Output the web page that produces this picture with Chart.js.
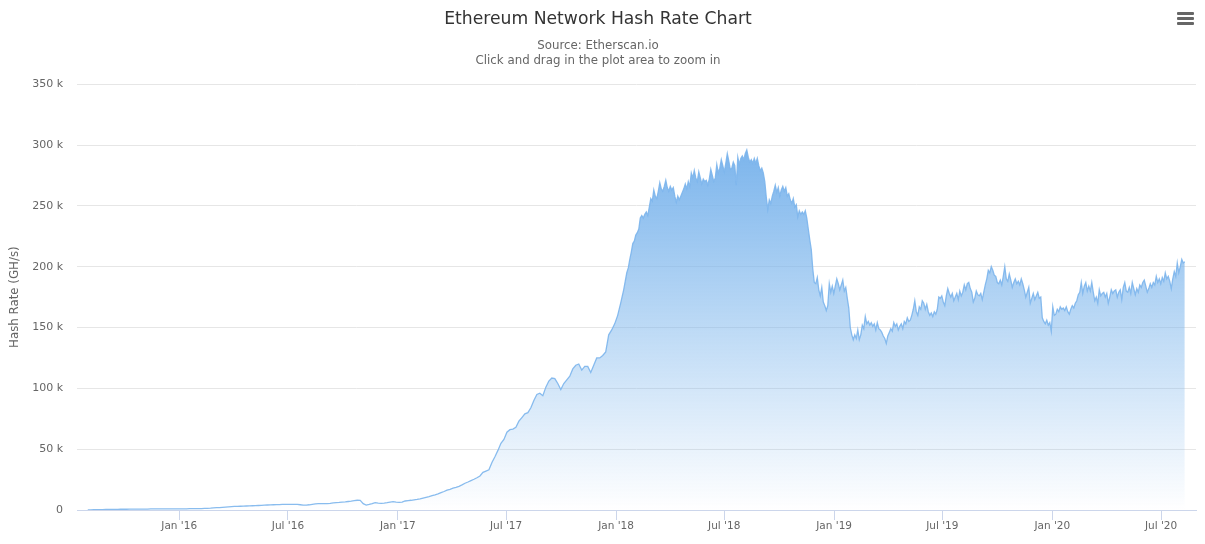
<!DOCTYPE html>
<html>
<head>
<meta charset="utf-8">
<title>Ethereum Network Hash Rate Chart</title>
<script src="https://cdn.jsdelivr.net/npm/chart.js@4"></script>
<style>
	body { margin: 0; background: #fff; }
	#wrap { position: relative; width: 1205px; height: 544px; overflow: hidden; }
	#menu { position: absolute; left: 1177px; top: 12px; width: 17px; }
	#menu div { height: 3px; background: #666; margin-bottom: 2px; border-radius: 1px; }
</style>
</head>
<body>
<div id="wrap">
	<canvas id="hashRateChart" width="1205" height="544"></canvas>
	<div id="menu"><div></div><div></div><div></div></div>
</div>
<script>
const DAY = 86400000;

// Hash rate in thousands of GH/s.
// Up to early 2018 the curve is smooth, so one reading every 5 days is enough
const earlyStart = Date.UTC(2015, 7, 1);
const earlyStep = 5.01;
const earlyRate = [
	0.1, 0.1, 0.2, 0.2, 0.3, 0.3, 0.4, 0.4, 0.5, 0.5,
	0.5, 0.6, 0.6, 0.6, 0.7, 0.7, 0.7, 0.8, 0.8, 0.8,
	0.8, 0.9, 0.9, 0.9, 1, 1, 1, 1, 1, 1,
	1, 1, 1, 1, 1.1, 1.1, 1.1, 1.1, 1.2, 1.3,
	1.4, 1.5, 1.7, 1.9, 2, 2.2, 2.4, 2.6, 2.8, 2.9,
	3, 3.1, 3.2, 3.3, 3.4, 3.5, 3.6, 3.7, 3.8, 4,
	4.1, 4.2, 4.3, 4.4, 4.5, 4.6, 4.7, 4.7, 4.7, 4.6,
	4.6, 4.3, 4, 4, 4.3, 4.7, 5, 5.2, 5.2, 5.3,
	5.3, 5.4, 5.8, 6, 6.2, 6.5, 6.7, 7, 7.3, 7.7,
	8, 7.9, 5.2, 4.1, 4.6, 5.2, 6, 5.6, 5.5, 5.7,
	6, 6.4, 6.8, 6.5, 6.3, 6.4, 7.4, 7.7, 8, 8.4,
	8.7, 9.2, 9.8, 10.4, 11, 11.8, 12.4, 13.2, 14.2, 15.2,
	16.4, 17, 18, 18.6, 19.5, 20.6, 22, 23, 24.2, 25.3,
	26.5, 28, 31, 32, 33, 39, 43.8, 49, 54.8, 58,
	64, 66, 66.5, 68, 73, 76, 79, 80, 84, 90,
	95, 96, 94, 101, 106, 108.5, 108, 104, 99, 104,
	107, 110, 116, 119, 120, 115, 118, 118, 113, 119,
	125, 125, 127, 130, 144, 148, 153, 160, 170, 181
];

// From 2018 on it is much spikier, so read it twice as often
const lateStart = Date.UTC(2018, 0, 19);
const lateStep = 2.51;
const lateRate = [
	195, 199, 206, 212, 219, 221, 226, 228, 231, 240, 242, 240, 243, 245, 242, 249, 256, 254, 263, 258,
	256, 262, 269, 264, 262, 266, 271, 265, 262, 266, 263, 265, 258, 253, 258, 255, 258, 261, 264, 268,
	264, 270, 266, 277, 273, 279, 273, 270, 278, 273, 268, 272, 270, 271, 267, 272, 280, 275, 270, 273,
	284, 277, 281, 288, 283, 278, 285, 293, 287, 280, 281, 286, 283, 267, 290, 284, 289, 291, 288, 293,
	296, 290, 286, 288, 285, 289, 285, 289, 283, 279, 281, 277, 270, 257, 247, 255, 252, 258, 262, 267,
	261, 265, 258, 263, 266, 262, 265, 258, 260, 255, 252, 256, 249, 251, 241, 246, 243, 245, 243, 246,
	240, 231, 222, 214, 198, 187, 186, 191, 181, 176, 183, 171, 168, 164, 168, 186, 179, 184, 178, 184,
	190, 186, 181, 185, 189, 180, 183, 174, 166, 150, 144, 140, 144, 141, 148, 140, 144, 152, 149, 159,
	153, 155, 152, 154, 151, 153, 148, 154, 149, 148, 146, 143, 141, 137, 143, 146, 149, 147, 154, 151,
	153, 148, 151, 153, 149, 155, 153, 158, 155, 156, 160, 165, 172, 163, 160, 167, 165, 172, 170, 165,
	169, 163, 160, 162, 159, 163, 161, 165, 175, 174, 176, 171, 168, 176, 182, 178, 175, 178, 172, 175,
	178, 173, 180, 176, 179, 185, 181, 186, 187, 182, 179, 171, 174, 180, 177, 176, 178, 173, 179, 185,
	190, 197, 195, 200, 197, 193, 192, 187, 186, 189, 185, 192, 200, 190, 188, 194, 189, 183, 187, 190,
	186, 188, 185, 190, 186, 181, 175, 179, 183, 170, 174, 178, 173, 176, 179, 174, 175, 158, 155, 153,
	156, 152, 154, 147, 167, 160, 161, 165, 163, 167, 165, 166, 164, 167, 163, 161, 165, 168, 166, 170,
	172, 177, 179, 187, 178, 184, 187, 180, 184, 180, 187, 179, 172, 175, 170, 181, 176, 178, 179, 175,
	178, 170, 175, 181, 178, 180, 181, 175, 179, 181, 173, 183, 187, 180, 179, 183, 178, 187, 182, 177,
	182, 179, 185, 183, 187, 189, 184, 179, 182, 186, 183, 187, 185, 192, 187, 190, 186, 191, 188, 195,
	190, 192, 188, 182, 190, 196, 192, 203, 195, 200, 206, 203, 204
];

const points = [
	...earlyRate.map((v, i) => ({ x: earlyStart + i * earlyStep * DAY, y: v * 1000 })),
	...lateRate.map((v, i) => ({ x: lateStart + i * lateStep * DAY, y: v * 1000 }))
];

const monthTicks = [
	Date.UTC(2016, 0, 1), Date.UTC(2016, 6, 1), Date.UTC(2017, 0, 1), Date.UTC(2017, 6, 1), Date.UTC(2018, 0, 1),
	Date.UTC(2018, 6, 1), Date.UTC(2019, 0, 1), Date.UTC(2019, 6, 1), Date.UTC(2020, 0, 1), Date.UTC(2020, 6, 1)
];

function monthLabel(value) {
	const d = new Date(value);
	return (d.getUTCMonth() === 0 ? 'Jan' : 'Jul') + " '" + String(d.getUTCFullYear()).slice(2);
}

function areaFill(context) {
	const { ctx, chartArea, scales } = context.chart;
	if (!chartArea) return 'rgba(124,181,236,0.5)';
	const g = ctx.createLinearGradient(0, scales.y.getPixelForValue(296000), 0, scales.y.getPixelForValue(0));
	g.addColorStop(0, 'rgba(124,181,236,1)');
	g.addColorStop(1, 'rgba(124,181,236,0)');
	return g;
}

Chart.defaults.font.family = '"DejaVu Sans", Verdana, sans-serif';

new Chart(document.getElementById('hashRateChart').getContext('2d'), {
	type: 'line',
	data: {
		datasets: [{
			label: 'Hash Rate',
			data: points,
			borderColor: 'rgba(124,181,236,0.9)',
			borderWidth: 1.3,
			backgroundColor: areaFill,
			fill: 'origin',
			pointRadius: 0,
			tension: 0
		}]
	},
	options: {
		responsive: false,
		animation: false,
		layout: { padding: { right: 9, left: 0, top: 0, bottom: 0 } },
		plugins: {
			legend: { display: false },
			title: {
				display: true,
				text: 'Ethereum Network Hash Rate Chart',
				color: '#333333',
				font: { size: 17.2, weight: 'normal' },
				padding: { top: 9, bottom: 8.7 }
			},
			subtitle: {
				display: true,
				text: ['Source: Etherscan.io', 'Click and drag in the plot area to zoom in'],
				color: '#666666',
				font: { size: 11.8, weight: 'normal', lineHeight: 1.27 },
				padding: { top: 0, bottom: 15.9 }
			}
		},
		scales: {
			x: {
				type: 'linear',
				min: Date.UTC(2016, 0, 1) - 171 * DAY,
				max: Date.UTC(2016, 0, 1) + 1701.5 * DAY,
				afterBuildTicks: scale => { scale.ticks = monthTicks.map(value => ({ value })); },
				afterFit: scale => { scale.height = 34; },
				grid: { drawOnChartArea: false, color: '#ccd6eb', tickLength: 10 },
				border: { color: '#ccd6eb' },
				ticks: {
					color: '#666666',
					font: { size: 10.5 },
					autoSkip: false,
					maxRotation: 0,
					padding: 0,
					callback: monthLabel
				}
			},
			y: {
				min: 0,
				max: 350000,
				afterFit: scale => { scale.width = 77; },
				grid: { color: '#e6e6e6', drawTicks: false },
				border: { display: false },
				title: {
					display: true,
					text: 'Hash Rate (GH/s)',
					color: '#666666',
					font: { size: 11.8 },
					padding: { top: 8, bottom: 0 }
				},
				ticks: {
					color: '#666666',
					font: { size: 11 },
					stepSize: 50000,
					padding: 14,
					callback: v => (v === 0 ? '0' : v / 1000 + ' k')
				}
			}
		}
	}
});
</script>
</body>
</html>
